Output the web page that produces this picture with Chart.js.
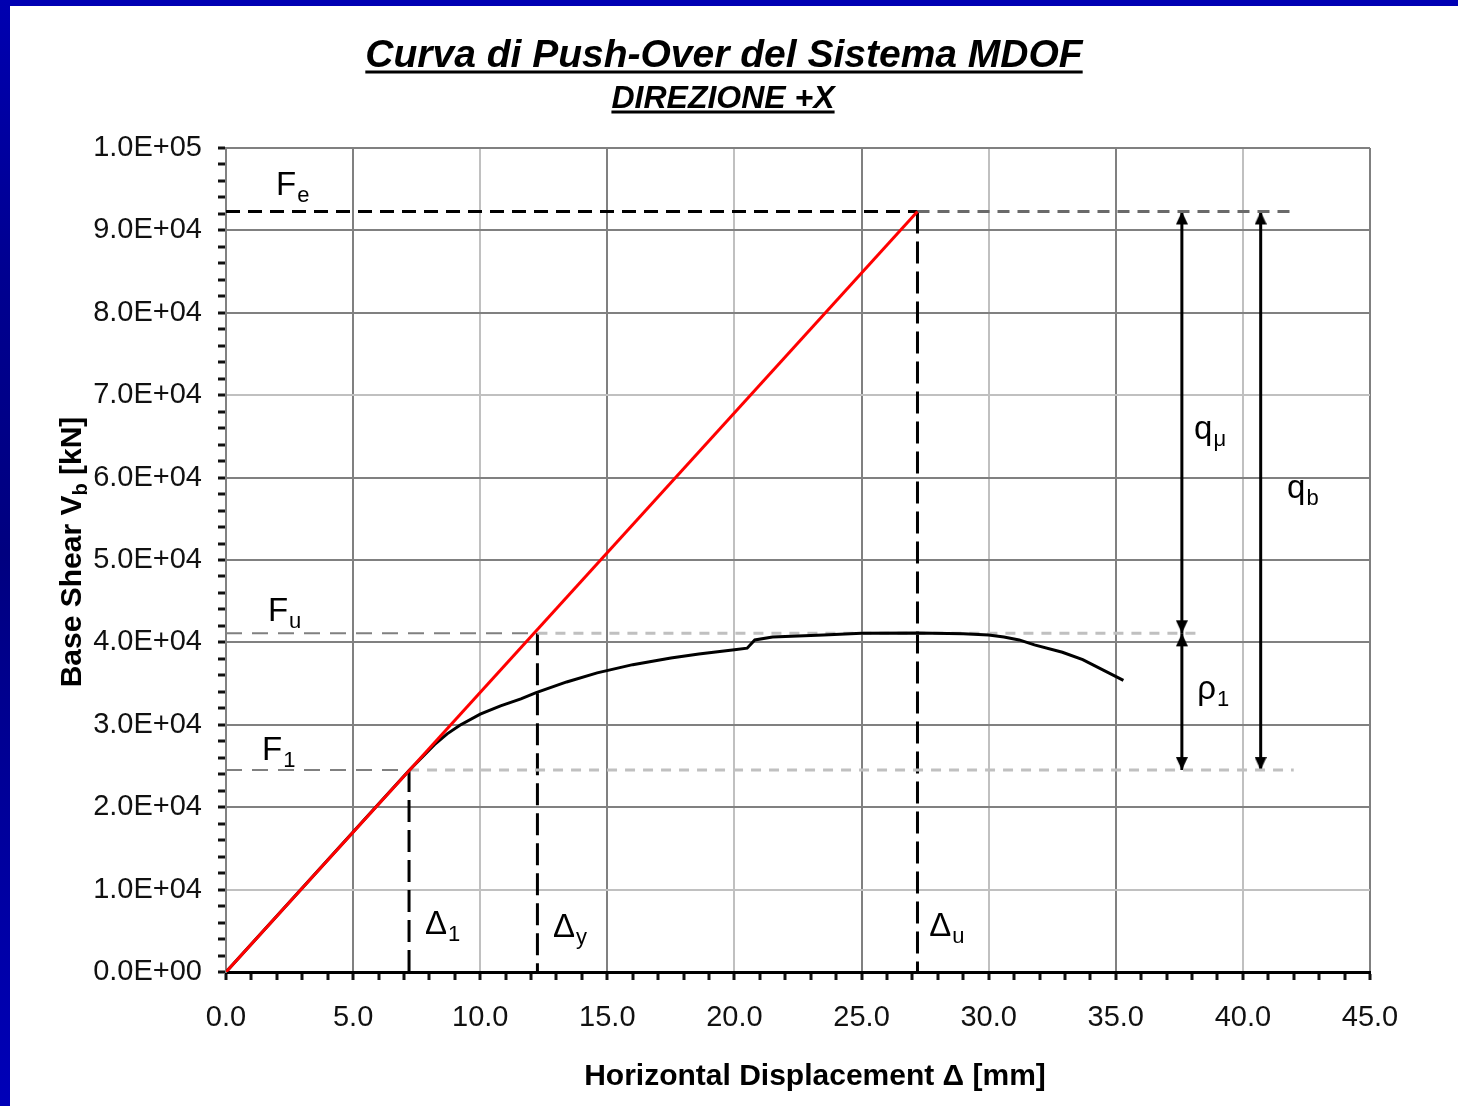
<!DOCTYPE html>
<html>
<head>
<meta charset="utf-8">
<script src="https://cdn.jsdelivr.net/npm/chart.js@4.4.1/dist/chart.umd.min.js"></script>
<style>
  html, body { margin: 0; padding: 0; background: #fff; overflow: hidden; }
  #wrap { position: relative; width: 1458px; height: 1106px; }
  #wrap canvas { position: absolute; left: 0; top: 0; }
  #edgeTop { position: absolute; left: 0; top: 0; width: 1458px; height: 6px; background: #0000b4; }
  #edgeLeft { position: absolute; left: 0; top: 0; width: 10px; height: 1106px;
    background: linear-gradient(to bottom, #0000b0 0%, #000090 25%, #000080 50%, #00009c 75%, #0000b8 100%); }
</style>
</head>
<body>
<div id="wrap">
  <canvas id="pushover-chart" width="1458" height="1106"></canvas>
  <div id="edgeTop"></div>
  <div id="edgeLeft"></div>
</div>
<script>
// push-over curve (MDOF), displacement in mm, base shear in kN
const pushDisp  = [0, 2.0, 4.0, 6.0, 7.2, 8.2, 8.7, 9.2, 10.0, 10.8, 11.6, 12.2, 13.4, 14.6, 16.0, 17.5, 18.6, 20.0, 20.5, 20.8, 21.5, 23.5, 25.0, 27.2, 29.0, 30.0, 30.6, 31.2, 31.8, 32.9, 33.7, 35.3];
const pushShear = [0, 6800, 13600, 20400, 24450, 27600, 28900, 29950, 31300, 32300, 33150, 33900, 35200, 36300, 37300, 38100, 38600, 39100, 39300, 40300, 40650, 40900, 41100, 41150, 41050, 40900, 40650, 40300, 39700, 38800, 37900, 35400];

// bilinear / elastic line
const elasticDisp  = [0, 27.2];
const elasticShear = [0, 92300];

// characteristic forces and displacements
const forceE = 92300, forceU = 41100, force1 = 24500;
const delta1 = 7.2, deltaY = 12.25, deltaU = 27.2;

// where the guide lines and double arrows sit (mm)
const guideEnd = 42, fuGuideEnd = 38.3;
const arrowMuX = 37.6, arrowBX = 40.7;

const chartTitle = 'Curva di Push-Over del Sistema MDOF';
const chartSubtitle = 'DIREZIONE +X';
const xTitle = 'Horizontal Displacement \u0394 [mm]';
const yTitle = ['Base Shear V', 'b', ' [kN]'];

const labels = [
  {main: 'F', sub: 'e', x: 1.97, y: 94300},
  {main: 'F', sub: 'u', x: 1.65, y: 42600},
  {main: 'F', sub: '1', x: 1.42, y: 25700},
  {main: '\u0394', sub: '1', x: 7.83, y: 4600},
  {main: '\u0394', sub: 'y', x: 12.86, y: 4250},
  {main: '\u0394', sub: 'u', x: 27.66, y: 4370},
  {main: 'q', sub: '\u03bc', x: 38.08, y: 64700},
  {main: 'q', sub: 'b', x: 41.74, y: 57500},
  {main: '\u03c1', sub: '1', x: 38.2, y: 33100}
];

const fam = '"Liberation Sans", Arial, sans-serif';
Chart.defaults.font.family = fam;
Chart.defaults.color = '#111';

function pts(xs, ys) {
  return xs.map((x, i) => ({x: x, y: ys[i]}));
}

function sci(v) {
  if (v === 0) return '0.0E+00';
  let parts = v.toExponential(1).split('e');
  let n = parseInt(parts[1], 10);
  return parts[0] + 'E' + (n < 0 ? '-' : '+') + String(Math.abs(n)).padStart(2, '0');
}

function arrowHead() {
  const c = document.createElement('canvas');
  c.width = 12;
  c.height = 28;
  const g = c.getContext('2d');
  g.fillStyle = '#000';
  g.beginPath();
  g.moveTo(6, 14);
  g.lineTo(12, 27);
  g.lineTo(0, 27);
  g.closePath();
  g.fill();
  return c;
}
const head = arrowHead();

function guide(data, color, width, dash) {
  return {data: data, showLine: true, borderColor: color, borderWidth: width,
    borderDash: dash, pointRadius: 0, fill: false};
}

function arrow(x, yTop, yBottom) {
  return {data: [{x: x, y: yTop}, {x: x, y: yBottom}], showLine: true,
    borderColor: '#000', borderWidth: 3, pointStyle: head, pointRadius: 6,
    pointRotation: [0, 180], pointBackgroundColor: '#000'};
}

let pushData = {
  datasets: [
    {data: pts(elasticDisp, elasticShear), showLine: true, borderColor: '#ff0000', borderWidth: 3, pointRadius: 0},
    {data: pts(pushDisp, pushShear), showLine: true, borderColor: '#000', borderWidth: 3, pointRadius: 0},
    guide([{x: 0, y: forceE}, {x: deltaU, y: forceE}], '#000', 3, [14, 8]),
    guide([{x: deltaU, y: forceE}, {x: guideEnd, y: forceE}], '#6a6a6a', 3, [12, 8]),
    guide([{x: 0, y: forceU}, {x: deltaY, y: forceU}], '#808080', 2, [16, 10]),
    guide([{x: deltaY, y: forceU}, {x: fuGuideEnd, y: forceU}], '#c0c0c0', 3, [10, 8]),
    guide([{x: 0, y: force1}, {x: delta1, y: force1}], '#808080', 2, [16, 10]),
    guide([{x: delta1, y: force1}, {x: guideEnd, y: force1}], '#c0c0c0', 3, [10, 8]),
    guide([{x: delta1, y: force1}, {x: delta1, y: 0}], '#000', 3, [22, 8]),
    guide([{x: deltaY, y: forceU}, {x: deltaY, y: 0}], '#000', 3, [22, 8]),
    guide([{x: deltaU, y: forceE}, {x: deltaU, y: 0}], '#000', 3, [22, 8]),
    arrow(arrowMuX, forceE, forceU),
    arrow(arrowMuX, forceU, force1),
    arrow(arrowBX, forceE, force1)
  ]
};

function xGridColor(v) {
  if (v % 5 !== 0) return 'rgba(0,0,0,0)';
  if (v % 10 === 0 && v !== 0) return '#c0c0c0';
  return '#808080';
}

function yGridColor(v) {
  if (v % 10000 !== 0) return 'rgba(0,0,0,0)';
  if (v === 70000 || v === 10000) return '#c0c0c0';
  return '#808080';
}

function drawSub(ctx, main, sub, px, py, size, weight) {
  ctx.font = weight + ' ' + size + 'px ' + fam;
  ctx.fillText(main, px, py);
  let w = ctx.measureText(main).width;
  ctx.font = weight + ' ' + Math.round(size * 0.66) + 'px ' + fam;
  ctx.fillText(sub, px + w + 1, py + Math.round(size * 0.2));
}

function underlined(ctx, text, cx, base, font, uy) {
  ctx.font = font;
  ctx.textAlign = 'center';
  ctx.fillText(text, cx, base);
  let w = ctx.measureText(text).width;
  ctx.fillRect(cx - w / 2, uy - 1.5, w, 3);
}

const textPlugin = {
  id: 'pushText',
  afterDraw(chart) {
    const ctx = chart.ctx;
    const xs = chart.scales.x, ys = chart.scales.y;
    ctx.save();
    ctx.fillStyle = '#000';
    ctx.textBaseline = 'alphabetic';

    underlined(ctx, chartTitle, 724, 67, 'italic bold 39px ' + fam, 72);
    underlined(ctx, chartSubtitle, 723, 108, 'italic bold 32px ' + fam, 112);

    // x axis title, sits a bit right of the plot centre in the original
    ctx.font = 'bold 30px ' + fam;
    ctx.textAlign = 'center';
    ctx.fillText(xTitle, 815, 1085);

    // y axis title with subscript
    ctx.save();
    ctx.translate(70, 552);
    ctx.rotate(-Math.PI / 2);
    ctx.textAlign = 'left';
    ctx.font = 'bold 30px ' + fam;
    let w1 = ctx.measureText(yTitle[0]).width;
    let w3 = ctx.measureText(yTitle[2]).width;
    ctx.font = 'bold 20px ' + fam;
    let w2 = ctx.measureText(yTitle[1]).width;
    let start = -(w1 + w2 + w3) / 2;
    ctx.font = 'bold 30px ' + fam;
    ctx.fillText(yTitle[0], start, 11);
    ctx.fillText(yTitle[2], start + w1 + w2, 11);
    ctx.font = 'bold 20px ' + fam;
    ctx.fillText(yTitle[1], start + w1, 17);
    ctx.restore();

    ctx.textAlign = 'left';
    labels.forEach(l => {
      drawSub(ctx, l.main, l.sub, xs.getPixelForValue(l.x), ys.getPixelForValue(l.y), 33, 'normal');
    });
    ctx.restore();
  }
};

let pushOptions = {
  responsive: false,
  animation: false,
  events: [],
  layout: {
    padding: {top: 148, right: 88, bottom: 0, left: 0}
  },
  scales: {
    x: {
      type: 'linear',
      min: 0,
      max: 45,
      ticks: {
        stepSize: 1,
        autoSkip: false,
        maxRotation: 0,
        padding: 21,
        color: '#111',
        font: {size: 29},
        callback: v => (v % 5 === 0 ? v.toFixed(1) : '')
      },
      grid: {
        color: c => xGridColor(c.tick.value),
        lineWidth: 2,
        tickColor: '#111',
        tickLength: 8,
        tickWidth: 3
      },
      border: {color: '#000', width: 3},
      afterFit: s => { s.height = 134; }
    },
    y: {
      type: 'linear',
      min: 0,
      max: 100000,
      ticks: {
        stepSize: 2000,
        maxTicksLimit: 100,
        autoSkip: false,
        padding: 16,
        color: '#111',
        font: {size: 29},
        callback: v => (v % 10000 === 0 ? sci(v) : '')
      },
      grid: {
        color: c => yGridColor(c.tick.value),
        lineWidth: 2,
        tickColor: '#111',
        tickLength: 8,
        tickWidth: 3
      },
      border: {color: '#808080', width: 2},
      afterFit: s => { s.width = 226; }
    }
  },
  plugins: {
    legend: {display: false},
    tooltip: {enabled: false},
    title: {display: false}
  }
};

const pushCanvas = document.getElementById('pushover-chart');
let pushChart = new Chart(pushCanvas, {
  type: 'scatter',
  data: pushData,
  options: pushOptions,
  plugins: [textPlugin]
});
</script>
</body>
</html>
